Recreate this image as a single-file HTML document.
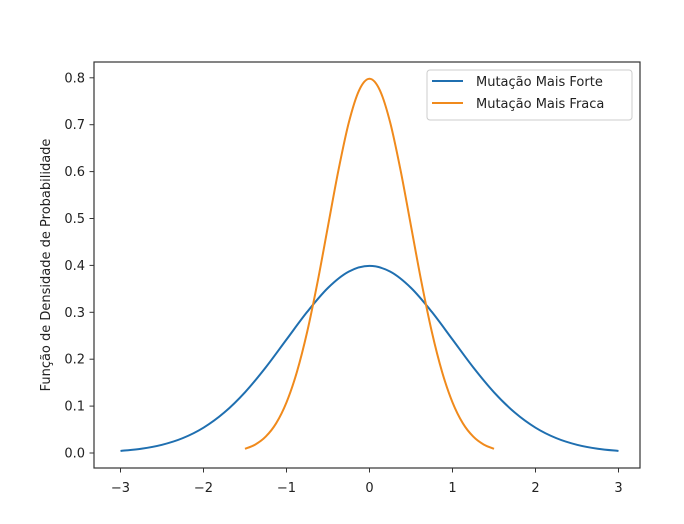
<!DOCTYPE html>
<html><head><meta charset="utf-8"><style>
html,body{margin:0;padding:0;background:#fff;}
svg{display:block;font-family:"DejaVu Sans","Liberation Sans",sans-serif;}
</style></head><body>
<svg id="chart" width="684" height="524" viewBox="0 0 684 524">
<rect width="684" height="524" fill="#fff"/>
<g id="plot"></g>
<rect x="94" y="62" width="546" height="406" fill="none" stroke="#333" stroke-width="1.2"/>
<g id="axes"></g>
<text x="50" y="265" transform="rotate(-90 50 265)" text-anchor="middle" font-size="13" fill="#222">Função de Densidade de Probabilidade</text>
<g>
<rect x="427" y="70" width="205" height="50" rx="3" fill="#fff" stroke="#ccc"/>
<line x1="432" y1="81" x2="463" y2="81" stroke="#1f6fb0" stroke-width="2"/>
<text x="476" y="86" font-size="13" fill="#222">Mutação Mais Forte</text>
<line x1="432" y1="103" x2="463" y2="103" stroke="#f08a1c" stroke-width="2"/>
<text x="476" y="108" font-size="13" fill="#222">Mutação Mais Fraca</text>
</g>
</svg>
<script>
const xTicks=[-3,-2,-1,0,1,2,3];
const yTicks=[0.0,0.1,0.2,0.3,0.4,0.5,0.6,0.7,0.8];
const yTickLabels=["0.0","0.1","0.2","0.3","0.4","0.5","0.6","0.7","0.8"];
const forteX=[-3,-2.75,-2.5,-2.25,-2,-1.75,-1.5,-1.25,-1,-0.75,-0.5,-0.25,0,0.25,0.5,0.75,1,1.25,1.5,1.75,2,2.25,2.5,2.75,3];
const forteY=[0.0044,0.0091,0.0175,0.0317,0.054,0.0863,0.1295,0.1826,0.242,0.3011,0.3521,0.3867,0.3989,0.3867,0.3521,0.3011,0.242,0.1826,0.1295,0.0863,0.054,0.0317,0.0175,0.0091,0.0044];
const fracaX=[-1.5,-1.375,-1.25,-1.125,-1,-0.875,-0.75,-0.625,-0.5,-0.375,-0.25,-0.125,0,0.125,0.25,0.375,0.5,0.625,0.75,0.875,1,1.125,1.25,1.375,1.5];
const fracaY=[0.0089,0.0182,0.035,0.0633,0.108,0.1726,0.259,0.3652,0.4839,0.6022,0.7041,0.7734,0.7979,0.7734,0.7041,0.6022,0.4839,0.3652,0.259,0.1726,0.108,0.0633,0.035,0.0182,0.0089];
const NS='http://www.w3.org/2000/svg';
function sx(v){return 369.5+v*83;}
function sy(v){return 453-v*469;}
const axes=document.getElementById('axes'),plot=document.getElementById('plot');
function mk(t,a,p){const e=document.createElementNS(NS,t);for(const k in a)e.setAttribute(k,a[k]);p.appendChild(e);return e;}
xTicks.forEach(v=>{
 const l=mk('line',{x1:sx(v),x2:sx(v),y1:468,y2:472.5,stroke:'#333'},axes);
 
 
 const t=mk('text',{x:sx(v),y:492,'text-anchor':'middle','font-size':13,fill:'#222'},axes);
 t.textContent=(v<0?'\u2212'+(-v):String(v));
 
 
});
yTicks.forEach((v,i)=>{
 const l=mk('line',{x1:89.5,x2:94,y1:sy(v),y2:sy(v),stroke:'#333'},axes);
 
 
 const t=mk('text',{x:85,y:sy(v)+4.5,'text-anchor':'end','font-size':13,fill:'#222'},axes);
 t.textContent=yTickLabels[i];
 
 
});
function pathFor(xs,ys){
 const p=xs.map((x,i)=>[sx(x),sy(ys[i])]);
 let d='M'+p[0][0]+' '+p[0][1];
 for(let i=0;i<p.length-1;i++){
  const p0=p[Math.max(0,i-1)],p1=p[i],p2=p[i+1],p3=p[Math.min(p.length-1,i+2)];
  const c1=[p1[0]+(p2[0]-p0[0])/6,p1[1]+(p2[1]-p0[1])/6];
  const c2=[p2[0]-(p3[0]-p1[0])/6,p2[1]-(p3[1]-p1[1])/6];
  d+=' C'+c1.join(' ')+' '+c2.join(' ')+' '+p2.join(' ');
 }
 return d;
}
const l1=mk('path',{d:pathFor(forteX,forteY),fill:'none',stroke:'#1f6fb0','stroke-width':2},plot);


const l2=mk('path',{d:pathFor(fracaX,fracaY),fill:'none',stroke:'#f08a1c','stroke-width':2},plot);


</script>
</body></html>
